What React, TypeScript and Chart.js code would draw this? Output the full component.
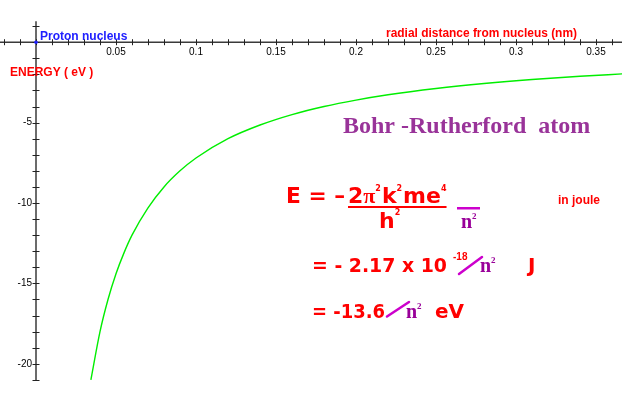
import React, { useEffect, useRef } from "react";
import { Chart, registerables } from "chart.js";

Chart.register(...registerables);

// Data (radial distance in nm, energy in eV)
const radiusNm = [0.0343, 0.04, 0.045, 0.05, 0.055, 0.06, 0.07, 0.08, 0.09, 0.1, 0.12, 0.14, 0.16, 0.18, 0.2, 0.22, 0.25, 0.28, 0.31, 0.34, 0.3663];
const energyEv = [-21.0, -18.0, -16.0, -14.4, -13.1, -12.0, -10.3, -9.0, -8.0, -7.2, -6.0, -5.15, -4.5, -4.0, -3.6, -3.27, -2.88, -2.57, -2.32, -2.12, -1.97];

const xMinorTicks = [-0.02, -0.01, 0, 0.01, 0.02, 0.03, 0.04, 0.05, 0.06, 0.07, 0.08, 0.09, 0.1, 0.11, 0.12, 0.13, 0.14, 0.15, 0.16, 0.17, 0.18, 0.19, 0.2, 0.21, 0.22, 0.23, 0.24, 0.25, 0.26, 0.27, 0.28, 0.29, 0.3, 0.31, 0.32, 0.33, 0.34, 0.35, 0.36];
const xLabelValues = [0.05, 0.1, 0.15, 0.2, 0.25, 0.3, 0.35];
const xLabelTexts = ["0.05", "0.1", "0.15", "0.2", "0.25", "0.3", "0.35"];
const yMinorTicks = [1, 0, -1, -2, -3, -4, -5, -6, -7, -8, -9, -10, -11, -12, -13, -14, -15, -16, -17, -18, -19, -20, -21];
const yLabelValues = [-5, -10, -15, -20];
const yLabelTexts = ["-5", "-10", "-15", "-20"];

const SANS = '"Liberation Sans", Arial, sans-serif';
const WIDE = '"DejaVu Sans", "Liberation Sans", sans-serif';
const SERIF = '"Liberation Serif", "Times New Roman", serif';
const RED = "#ff0000";
const PURPLE = "#993399";
const MAGENTA = "#cc00cc";
const NPURPLE = "#990099";

const axesPlugin = {
  id: "crossAxes",
  beforeDatasetsDraw(chart: any) {
    const { ctx, scales } = chart;
    const xs = scales.x;
    const ys = scales.y;
    const x0 = xs.getPixelForValue(0);
    const y0 = ys.getPixelForValue(0);
    ctx.save();
    ctx.strokeStyle = "#3a3a3a";
    ctx.lineWidth = 1.5;
    ctx.beginPath();
    ctx.moveTo(0, y0);
    ctx.lineTo(chart.width, y0);
    ctx.stroke();
    ctx.beginPath();
    ctx.moveTo(x0, ys.getPixelForValue(1.3));
    ctx.lineTo(x0, ys.getPixelForValue(-21));
    ctx.stroke();
    ctx.lineWidth = 1;
    ctx.strokeStyle = "#222";
    xMinorTicks.forEach((v) => {
      const px = Math.round(xs.getPixelForValue(v)) + 0.5;
      ctx.beginPath();
      ctx.moveTo(px, y0 - 3);
      ctx.lineTo(px, y0 + 3);
      ctx.stroke();
    });
    yMinorTicks.forEach((v) => {
      const py = Math.round(ys.getPixelForValue(v)) + 0.5;
      ctx.beginPath();
      ctx.moveTo(x0 - 3.5, py);
      ctx.lineTo(x0 + 3.5, py);
      ctx.stroke();
    });
    ctx.fillStyle = "#000";
    ctx.font = `10px ${SANS}`;
    ctx.textAlign = "center";
    ctx.textBaseline = "middle";
    xLabelValues.forEach((v, i) => {
      ctx.fillText(xLabelTexts[i], xs.getPixelForValue(v), y0 + 10);
    });
    ctx.textAlign = "right";
    yLabelValues.forEach((v, i) => {
      ctx.fillText(yLabelTexts[i], x0 - 4, ys.getPixelForValue(v));
    });
    ctx.fillStyle = "#2020ff";
    ctx.beginPath();
    ctx.arc(x0, y0, 1.8, 0, Math.PI * 2);
    ctx.fill();
    ctx.restore();
  },
};

type Seg = { t: string; font: string; color: string; dy?: number; gap?: number };

function drawSegs(ctx: CanvasRenderingContext2D, x: number, y: number, segs: Seg[]) {
  let cx = x;
  segs.forEach((s) => {
    ctx.font = s.font;
    ctx.fillStyle = s.color;
    cx += s.gap || 0;
    ctx.fillText(s.t, cx, y + (s.dy || 0));
    cx += ctx.measureText(s.t).width;
  });
  return cx;
}

function fitText(ctx: CanvasRenderingContext2D, text: string, x: number, y: number, width: number) {
  const w = ctx.measureText(text).width;
  ctx.save();
  ctx.translate(x, y);
  ctx.scale(width / w, 1);
  ctx.fillText(text, 0, 0);
  ctx.restore();
}

const textPlugin = {
  id: "annotations",
  afterDatasetsDraw(chart: any) {
    const ctx: CanvasRenderingContext2D = chart.ctx;
    ctx.save();
    ctx.textBaseline = "alphabetic";
    ctx.textAlign = "left";

    ctx.fillStyle = "#2020ff";
    ctx.font = `bold 12px ${SANS}`;
    ctx.fillText("Proton nucleus", 40, 40);

    ctx.fillStyle = RED;
    ctx.font = `bold 12px ${SANS}`;
    fitText(ctx, "radial distance from nucleus (nm)", 386, 37, 191);
    ctx.fillText("ENERGY ( eV )", 10, 76);

    ctx.fillStyle = PURPLE;
    ctx.font = `bold 24px ${SERIF}`;
    ctx.fillText("Bohr -Rutherford  atom", 343, 133);

    // Line 1
    ctx.fillStyle = RED;
    ctx.font = `bold 22px ${WIDE}`;
    fitText(ctx, "E = \u2013", 286, 203, 59);
    const big = `bold 22px ${WIDE}`;
    const sup = `bold 8px ${WIDE}`;
    const numEnd = drawSegs(ctx, 348, 203, [
      { t: "2", font: big, color: RED },
      { t: "\u03c0", font: `bold 22px ${SERIF}`, color: RED },
      { t: "2", font: sup, color: RED, dy: -12 },
      { t: "k", font: big, color: RED, gap: 1 },
      { t: "2", font: sup, color: RED, dy: -12 },
      { t: "me", font: big, color: RED, gap: 1 },
      { t: "4", font: sup, color: RED, dy: -12 },
    ]);
    ctx.fillStyle = RED;
    ctx.fillRect(348, 206, Math.max(95, numEnd - 348), 2);
    drawSegs(ctx, 379, 228, [
      { t: "h", font: big, color: RED },
      { t: "2", font: sup, color: RED, dy: -13 },
    ]);
    ctx.fillStyle = MAGENTA;
    ctx.fillRect(457, 207, 23, 2.5);
    drawSegs(ctx, 461, 228, [
      { t: "n", font: `bold 20px ${SERIF}`, color: NPURPLE },
      { t: "2", font: `bold 9px ${SERIF}`, color: NPURPLE, dy: -9 },
    ]);
    ctx.fillStyle = RED;
    ctx.font = `bold 12px ${SANS}`;
    ctx.fillText("in joule", 558, 204);

    // Line 2
    ctx.font = `bold 20px ${WIDE}`;
    fitText(ctx, "= - 2.17 x 10", 312, 272, 135);
    ctx.font = `bold 10px ${SANS}`;
    ctx.fillText("-18", 453, 260);
    ctx.strokeStyle = MAGENTA;
    ctx.lineWidth = 2.5;
    ctx.lineCap = "round";
    ctx.beginPath();
    ctx.moveTo(459, 274);
    ctx.lineTo(482, 257);
    ctx.stroke();
    drawSegs(ctx, 480, 272, [
      { t: "n", font: `bold 20px ${SERIF}`, color: NPURPLE },
      { t: "2", font: `bold 9px ${SERIF}`, color: NPURPLE, dy: -9 },
    ]);
    ctx.fillStyle = RED;
    ctx.font = `bold 20px ${WIDE}`;
    ctx.fillText("J", 528, 272);

    // Line 3
    fitText(ctx, "= -13.6", 312, 318, 73);
    ctx.beginPath();
    ctx.moveTo(387, 316.5);
    ctx.lineTo(409, 302);
    ctx.stroke();
    drawSegs(ctx, 406, 318, [
      { t: "n", font: `bold 20px ${SERIF}`, color: NPURPLE },
      { t: "2", font: `bold 9px ${SERIF}`, color: NPURPLE, dy: -9 },
    ]);
    ctx.fillStyle = RED;
    ctx.font = `bold 20px ${WIDE}`;
    ctx.fillText("eV", 435, 318);
    ctx.restore();
  },
};

export default function App() {
  const canvasRef = useRef<HTMLCanvasElement | null>(null);

  useEffect(() => {
    if (!canvasRef.current) return;
    const chart = new Chart(canvasRef.current, {
      type: "line",
      data: {
        datasets: [
          {
            data: radiusNm.map((r, i) => ({ x: r, y: energyEv[i] })),
            borderColor: "#00ee00",
            borderWidth: 1.4,
            pointRadius: 0,
            cubicInterpolationMode: "monotone",
            fill: false,
          },
        ],
      },
      options: {
        responsive: false,
        animation: false,
        maintainAspectRatio: false,
        layout: { padding: 0 },
        plugins: { legend: { display: false }, tooltip: { enabled: false } },
        scales: {
          x: { type: "linear", min: -0.0225, max: 0.36625, display: false },
          y: { type: "linear", min: -22.25, max: 2.625, display: false },
        },
      },
      plugins: [axesPlugin, textPlugin],
    });
    return () => chart.destroy();
  }, []);

  return (
    <div style={{ position: "fixed", left: 0, top: 0, width: 622, height: 400, background: "#fff" }}>
      <canvas ref={canvasRef} width={622} height={400} style={{ display: "block" }} />
    </div>
  );
}
